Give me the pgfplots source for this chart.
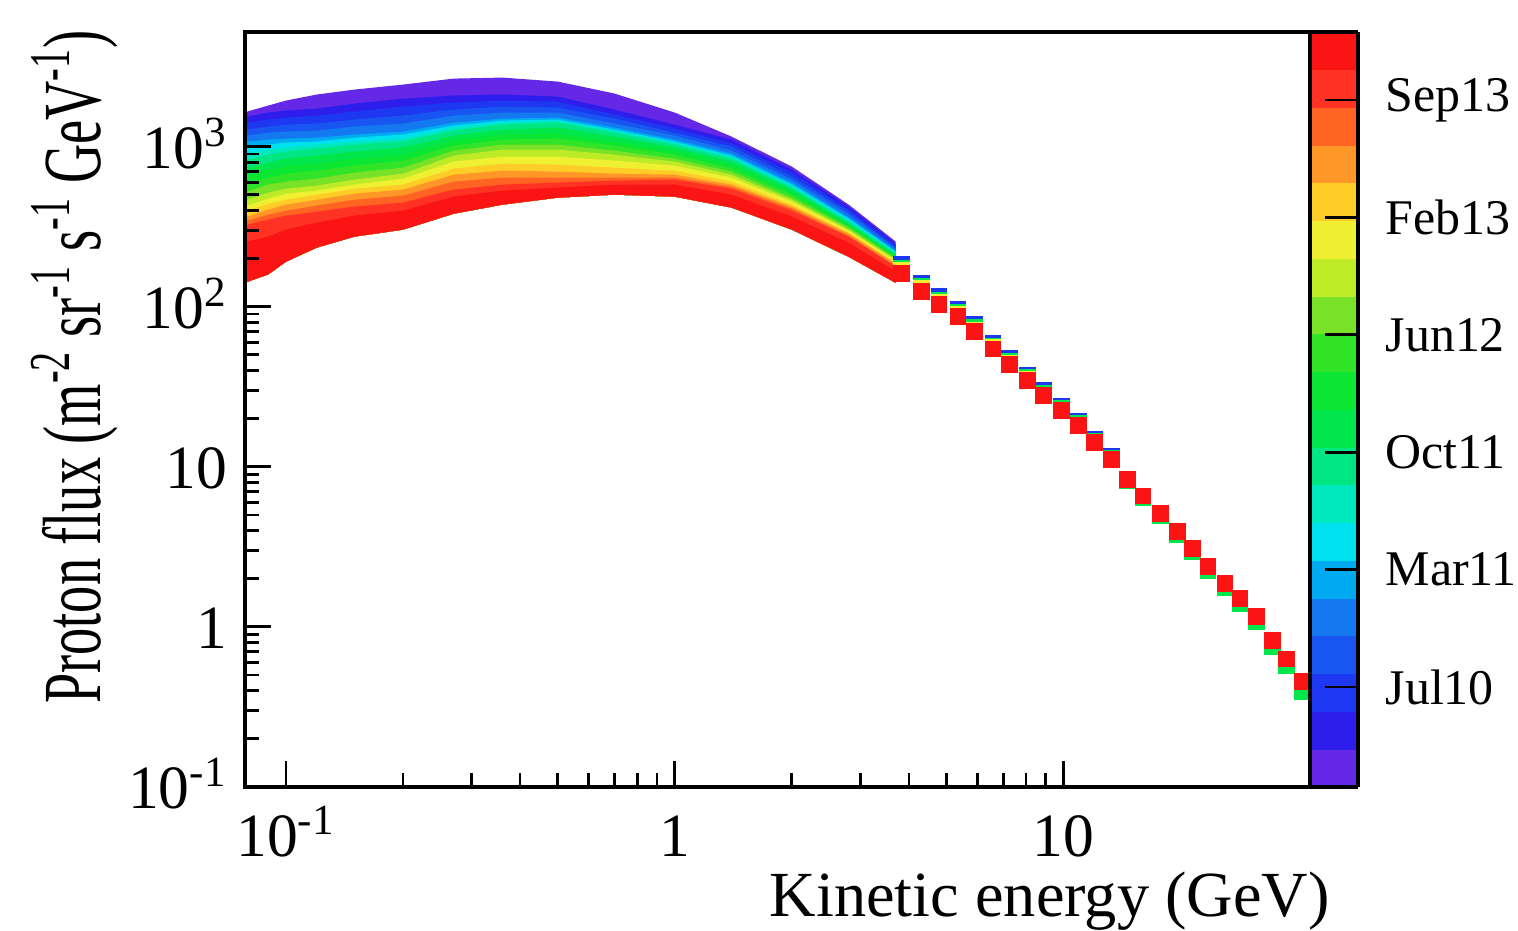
\documentclass[border=0pt]{standalone}
\usepackage{fontspec}
\setmainfont{Liberation Serif}
\usepackage{graphicx}
\usepackage{pgfplots}
\usepgfplotslibrary{fillbetween}
\pgfplotsset{compat=1.18}

% palette, violet (early) to red (late)
\definecolor{c1}{RGB}{100,40,230}
\definecolor{c2}{RGB}{45,30,235}
\definecolor{c3}{RGB}{30,55,240}
\definecolor{c4}{RGB}{25,85,240}
\definecolor{c5}{RGB}{20,120,240}
\definecolor{c6}{RGB}{0,170,240}
\definecolor{c7}{RGB}{0,225,240}
\definecolor{c8}{RGB}{0,232,190}
\definecolor{c9}{RGB}{0,230,130}
\definecolor{c10}{RGB}{0,230,75}
\definecolor{c11}{RGB}{10,230,50}
\definecolor{c12}{RGB}{50,228,40}
\definecolor{c13}{RGB}{120,225,40}
\definecolor{c14}{RGB}{190,235,40}
\definecolor{c15}{RGB}{240,240,50}
\definecolor{c16}{RGB}{255,205,40}
\definecolor{c17}{RGB}{255,150,40}
\definecolor{c18}{RGB}{255,100,35}
\definecolor{c19}{RGB}{255,50,35}
\definecolor{c20}{RGB}{250,20,20}

\pgfplotsset{edge/.style={draw=none, name path=#1},
  sq/.style={only marks, mark=square*, mark size=2.2pt, color=#1}}

\begin{document}
\begin{tikzpicture}
\begin{axis}[
  scale only axis, width=10.65cm, height=7.55cm,
  xmode=log, ymode=log,
  xmin=0.0785, xmax=43, ymin=0.1, ymax=5200,
  axis on top,
  tick pos=left, tick align=inside,
  major tick length=0.26cm, minor tick length=0.14cm,
  axis line style={line width=0.9pt},
  every tick/.style={black, line width=0.8pt},
  xtick={0.1,1,10}, xticklabels={10\textsuperscript{-1},1,10},
  ytick={0.1,1,10,100,1000},
  yticklabels={10\textsuperscript{-1},1,10,10\textsuperscript{2},10\textsuperscript{3}},
  /pgf/number format/assume math mode=true,
  tick label style={font=\fontsize{17.5}{20}\selectfont},
  xticklabel style={anchor=base, yshift=-0.7cm},
  yticklabel style={anchor=base east, inner sep=0pt, xshift=-0.17cm, yshift=-0.22cm},
  xlabel={Kinetic energy (GeV)},
  xlabel style={at={(axis description cs:1.019,-0.172)}, anchor=base east, inner sep=0pt,
    font=\fontsize{18.3}{22}\selectfont},
  ylabel={\scalebox{0.658}[1]{Proton flux (m\textsuperscript{-2} sr\textsuperscript{-1} s\textsuperscript{-1} GeV\textsuperscript{-1})}},
  ylabel style={at={(axis description cs:-0.16,1.003)}, anchor=east, inner sep=0pt,
    font=\fontsize{23.5}{28}\selectfont},
  colormap={rootpal}{rgb255=(100,40,230) rgb255=(45,30,235) rgb255=(30,55,240)
    rgb255=(25,85,240) rgb255=(20,120,240) rgb255=(0,170,240) rgb255=(0,225,240)
    rgb255=(0,232,190) rgb255=(0,230,130) rgb255=(0,230,75) rgb255=(10,230,50)
    rgb255=(50,228,40) rgb255=(120,225,40) rgb255=(190,235,40) rgb255=(240,240,50)
    rgb255=(255,205,40) rgb255=(255,150,40) rgb255=(255,100,35) rgb255=(255,50,35)
    rgb255=(250,20,20)},
  colormap access=piecewise constant,
  point meta min=0, point meta max=20,
  colorbar,
  colorbar shift/.style={},
  colorbar style={
    at={(parent axis.north east)}, anchor=north west,
    width=0.48cm, xmode=normal, ymode=normal, xtick=\empty,
    axis line style={line width=0.9pt},
    ytick={2.65,5.76,8.87,11.98,15.09,18.2},
    yticklabels={Jul10,Mar11,Oct11,Jun12,Feb13,Sep13},
    ytick pos=right, ytick align=inside, minor y tick num=0,
    /pgfplots/tickwidth=0.33cm,
    every y tick label/.style={font=\fontsize{14.2}{16}\selectfont, anchor=west,
      inner sep=0pt, xshift=0.27cm},
  },
]
% low energy spectra (upper edges), one per period, early to late
\addplot[edge=t1] coordinates {(0.0795,1655)(0.09,1804)(0.1,1939)(0.12,2114)(0.15,2271)(0.2,2440)(0.27,2660)(0.36,2699)(0.5,2548)(0.7,2145)(1.0,1631)(1.4,1155)(2.0,750)(2.8,434)(3.7,255)};
\addplot[edge=t2] coordinates {(0.0795,1540)(0.09,1631)(0.1,1679)(0.12,1728)(0.15,1856)(0.2,1995)(0.27,2084)(0.36,2114)(0.5,2054)(0.7,1703)(1.0,1373)(1.4,1106)(2.0,718)(2.8,422)(3.7,248)};
\addplot[edge=t3] coordinates {(0.0795,1412)(0.09,1475)(0.1,1518)(0.12,1562)(0.15,1655)(0.2,1778)(0.27,1884)(0.36,1939)(0.5,1911)(0.7,1585)(1.0,1296)(1.4,1044)(2.0,688)(2.8,404)(3.7,241)};
\addplot[edge=t4] coordinates {(0.0795,1277)(0.09,1334)(0.1,1373)(0.12,1392)(0.15,1475)(0.2,1562)(0.27,1703)(0.36,1778)(0.5,1753)(0.7,1496)(1.0,1223)(1.4,1000)(2.0,649)(2.8,392)(3.7,234)};
\addplot[edge=t5] coordinates {(0.0795,1172)(0.09,1223)(0.1,1241)(0.12,1259)(0.15,1334)(0.2,1392)(0.27,1562)(0.36,1631)(0.5,1631)(0.7,1392)(1.0,1172)(1.4,944)(2.0,622)(2.8,376)(3.7,230)};
\addplot[edge=t6] coordinates {(0.0795,1075)(0.09,1106)(0.1,1122)(0.12,1138)(0.15,1189)(0.2,1241)(0.27,1412)(0.36,1496)(0.5,1518)(0.7,1315)(1.0,1106)(1.4,904)(2.0,596)(2.8,360)(3.7,224)};
\addplot[edge=t7] coordinates {(0.0795,986)(0.09,1029)(0.1,1060)(0.12,1075)(0.15,1138)(0.2,1189)(0.27,1353)(0.36,1454)(0.5,1475)(0.7,1277)(1.0,1075)(1.4,879)(2.0,579)(2.8,355)(3.7,221)};
\addplot[edge=t8] coordinates {(0.0795,904)(0.09,958)(0.1,986)(0.12,1029)(0.15,1075)(0.2,1122)(0.27,1315)(0.36,1412)(0.5,1454)(0.7,1259)(1.0,1060)(1.4,866)(2.0,571)(2.8,345)(3.7,218)};
\addplot[edge=t9] coordinates {(0.0795,829)(0.09,891)(0.1,931)(0.12,972)(0.15,1029)(0.2,1075)(0.27,1259)(0.36,1373)(0.5,1412)(0.7,1223)(1.0,1029)(1.4,841)(2.0,554)(2.8,340)(3.7,214)};
\addplot[edge=t10] coordinates {(0.0795,739)(0.09,794)(0.1,841)(0.12,879)(0.15,931)(0.2,986)(0.27,1172)(0.36,1277)(0.5,1315)(0.7,1155)(1.0,986)(1.4,806)(2.0,539)(2.8,330)(3.7,211)};
\addplot[edge=t11] coordinates {(0.0795,659)(0.09,718)(0.1,750)(0.12,783)(0.15,841)(0.2,891)(0.27,1091)(0.36,1189)(0.5,1206)(0.7,1075)(1.0,931)(1.4,772)(2.0,516)(2.8,325)(3.7,208)};
\addplot[edge=t12] coordinates {(0.0795,587)(0.09,640)(0.1,678)(0.12,708)(0.15,761)(0.2,818)(0.27,1015)(0.36,1106)(0.5,1122)(0.7,1015)(1.0,891)(1.4,729)(2.0,501)(2.8,316)(3.7,203)};
\addplot[edge=t13] coordinates {(0.0795,523)(0.09,579)(0.1,604)(0.12,631)(0.15,688)(0.2,739)(0.27,944)(0.36,1029)(0.5,1029)(0.7,944)(1.0,841)(1.4,698)(2.0,480)(2.8,312)(3.7,200)};
\addplot[edge=t14] coordinates {(0.0795,466)(0.09,516)(0.1,546)(0.12,571)(0.15,622)(0.2,678)(0.27,879)(0.36,958)(0.5,958)(0.7,891)(1.0,806)(1.4,668)(2.0,466)(2.8,303)(3.7,197)};
\addplot[edge=t15] coordinates {(0.0795,428)(0.09,473)(0.1,508)(0.12,531)(0.15,579)(0.2,631)(0.27,806)(0.36,866)(0.5,866)(0.7,818)(1.0,761)(1.4,640)(2.0,453)(2.8,299)(3.7,194)};
\addplot[edge=t16] coordinates {(0.0795,398)(0.09,440)(0.1,466)(0.12,501)(0.15,546)(0.2,579)(0.27,729)(0.36,783)(0.5,772)(0.7,739)(1.0,708)(1.4,604)(2.0,434)(2.8,290)(3.7,188)};
\addplot[edge=t17] coordinates {(0.0795,365)(0.09,404)(0.1,434)(0.12,466)(0.15,508)(0.2,539)(0.27,668)(0.36,708)(0.5,698)(0.7,678)(1.0,668)(1.4,579)(2.0,422)(2.8,286)(3.7,186)};
\addplot[edge=t18] coordinates {(0.0795,345)(0.09,376)(0.1,398)(0.12,428)(0.15,466)(0.2,494)(0.27,604)(0.36,640)(0.5,640)(0.7,640)(1.0,640)(1.4,562)(2.0,410)(2.8,278)(3.7,180)};
\addplot[edge=t19] coordinates {(0.0795,325)(0.09,350)(0.1,371)(0.12,392)(0.15,422)(0.2,447)(0.27,539)(0.36,579)(0.5,596)(0.7,613)(1.0,622)(1.4,546)(2.0,398)(2.8,274)(3.7,178)};
\addplot[edge=t20] coordinates {(0.0795,255)(0.09,274)(0.1,303)(0.12,335)(0.15,371)(0.2,398)(0.27,487)(0.36,531)(0.5,554)(0.7,579)(1.0,579)(1.4,501)(2.0,365)(2.8,251)(3.7,166)};
% lower edge of the lowest spectrum
\addplot[edge=bot] coordinates {(0.0795,143)(0.09,159)(0.1,191)(0.12,234)(0.15,274)(0.2,303)(0.27,381)(0.36,434)(0.5,480)(0.7,501)(1.0,487)(1.4,416)(2.0,303)(2.8,205)(3.7,141)};

\addplot[c1] fill between[of=t1 and bot];
\addplot[c2] fill between[of=t2 and bot];
\addplot[c3] fill between[of=t3 and bot];
\addplot[c4] fill between[of=t4 and bot];
\addplot[c5] fill between[of=t5 and bot];
\addplot[c6] fill between[of=t6 and bot];
\addplot[c7] fill between[of=t7 and bot];
\addplot[c8] fill between[of=t8 and bot];
\addplot[c9] fill between[of=t9 and bot];
\addplot[c10] fill between[of=t10 and bot];
\addplot[c11] fill between[of=t11 and bot];
\addplot[c12] fill between[of=t12 and bot];
\addplot[c13] fill between[of=t13 and bot];
\addplot[c14] fill between[of=t14 and bot];
\addplot[c15] fill between[of=t15 and bot];
\addplot[c16] fill between[of=t16 and bot];
\addplot[c17] fill between[of=t17 and bot];
\addplot[c18] fill between[of=t18 and bot];
\addplot[c19] fill between[of=t19 and bot];
\addplot[c20] fill between[of=t20 and bot];

% high energy bins
\addplot[sq=c3] coordinates {(3.82,183.3)(4.30,139.1)(4.78,115.6)(5.35,95.7)(5.91,77.0)(6.58,59.3)(7.27,47.8)(8.09,37.4)(8.89,30.1)(9.88,23.8)(10.9,19.2)(12.0,14.8)(13.3,11.6)};
\addplot[sq=c10] coordinates {(3.82,173.0)(4.30,133.3)(4.78,109.1)(5.35,91.6)(5.91,73.7)(6.58,56.8)(7.27,45.7)(8.09,36.3)(8.89,28.8)(9.88,23.2)(10.9,18.6)(12.0,14.4)(13.3,11.3)(14.6,8.16)(16.0,6.38)(17.7,4.99)(19.6,3.79)(21.4,2.97)(23.5,2.25)(26.0,1.76)(28.4,1.40)(31.4,1.08)(34.5,0.752)(37.5,0.570)(41.2,0.396)};
\addplot[sq=c15] coordinates {(3.82,168.1)(4.30,129.5)(4.78,106.0)(5.35,89.0)(5.91,71.6)(6.58,56.0)(7.27,44.4)(8.09,35.3)};
\addplot[sq=c20] coordinates {(3.82,161)(4.30,124)(4.78,103)(5.35,86.5)(5.91,69.6)(6.58,54.4)(7.27,43.8)(8.09,34.8)(8.89,28.0)(9.88,22.5)(10.9,18.1)(12.0,14.2)(13.3,11.1)(14.6,8.28)(16.0,6.57)(17.7,5.14)(19.6,3.96)(21.4,3.10)(23.5,2.38)(26.0,1.86)(28.4,1.50)(31.4,1.16)(34.5,0.82)(37.5,0.63)(41.2,0.457)};
\end{axis}
\path (-2.45cm,-1.42cm) rectangle (12.73cm,7.87cm);
\end{tikzpicture}
\end{document}
